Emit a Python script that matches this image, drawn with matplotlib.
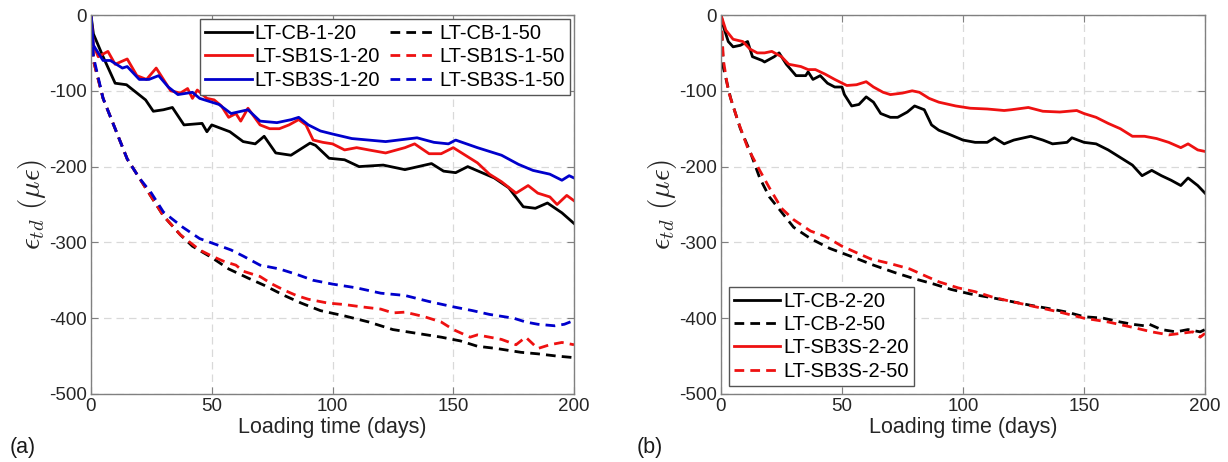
import matplotlib
matplotlib.use("Agg")
import matplotlib.pyplot as plt
import numpy as np

plt.rcParams['font.family'] = ['Liberation Sans', 'DejaVu Sans']
plt.rcParams['mathtext.fontset'] = 'cm'
plt.rcParams['axes.unicode_minus'] = False

# ---------------- Panel (a) data ----------------
cb1_20_x = [0, 1, 5, 10, 14.7, 22.6, 25.8, 30, 33.7, 38.5, 46, 48, 50, 57.5, 63, 68, 71.7, 76.5, 82.8, 90.7, 93, 98.6, 105, 111, 121, 130, 141, 146, 151, 156, 167, 173, 179, 184, 189, 195, 200]
cb1_20_y = [0, -25, -55, -90, -92, -112, -127, -125, -122, -145, -143, -154, -145, -154, -167, -170, -160, -182, -185, -169, -172, -189, -191, -200, -198, -204, -196, -206, -208, -200, -215, -228, -253, -255, -248, -261, -275]

sb1s1_20_x = [0, 1, 3, 7, 10, 15, 19, 23, 27, 30, 33, 37, 40, 42, 44, 48, 51, 54, 57, 60, 62, 65, 70, 74, 78, 82, 86, 89, 92, 96, 100, 105, 110, 115, 122, 130, 134, 140, 145, 150, 155, 160, 165, 170, 176, 181, 185, 190, 193, 197, 200]
sb1s1_20_y = [0, -40, -55, -48, -65, -58, -80, -85, -70, -85, -100, -103, -97, -110, -99, -110, -112, -120, -135, -130, -140, -123, -145, -150, -150, -145, -138, -145, -165, -168, -170, -178, -175, -178, -182, -175, -170, -183, -183, -175, -185, -195, -210, -220, -235, -225, -235, -240, -250, -238, -245]

sb3s1_20_x = [0, 1, 5, 8, 13, 15, 20, 24, 28, 32, 36, 42, 45, 50, 53, 58, 65, 70, 77, 83, 86, 90, 95, 100, 108, 115, 122, 135, 142, 148, 151, 160, 170, 177, 183, 190, 195, 198, 200]
sb3s1_20_y = [0, -40, -60, -60, -70, -68, -85, -85, -80, -95, -105, -102, -110, -115, -118, -130, -125, -140, -142, -138, -135, -145, -153, -157, -163, -165, -167, -162, -168, -170, -165, -175, -185, -197, -205, -210, -218, -212, -215]

cb1_50_x = [0, 1, 5, 10, 15, 20, 25, 30, 37, 42, 50, 57, 65, 72, 80, 87, 95, 105, 115, 125, 135, 145, 153, 160, 168, 178, 185, 193, 200]
cb1_50_y = [0, -60, -110, -150, -190, -215, -240, -265, -290, -305, -320, -335, -347, -357, -370, -380, -390, -397, -405, -415, -420, -425, -430, -437, -440, -445, -447, -450, -452]

sb1s1_50_x = [0, 1, 5, 10, 15, 20, 25, 30, 37, 45, 50, 55, 60, 63, 70, 75, 80, 85, 90, 98, 105, 112, 120, 125, 130, 138, 145, 150, 157, 160, 170, 176, 180, 185, 190, 195, 200]
sb1s1_50_y = [0, -60, -110, -150, -190, -215, -240, -265, -290, -310, -318, -325, -330, -338, -345, -355, -363, -370, -375, -380, -382, -385, -388, -393, -392, -398, -405, -415, -425, -422, -428, -435, -425, -440, -435, -432, -435]

sb3s1_50_x = [0, 1, 5, 10, 15, 20, 25, 30, 38, 45, 52, 58, 63, 70, 78, 85, 92, 100, 110, 120, 130, 140, 150, 158, 165, 175, 180, 185, 192, 196, 200]
sb3s1_50_y = [0, -55, -110, -150, -190, -215, -235, -260, -280, -295, -303, -310, -318, -330, -335, -342, -350, -355, -360, -367, -370, -378, -385, -390, -395, -400, -405, -408, -410, -408, -403]

# ---------------- Panel (b) data ----------------
cb2_20_x = [0, 1, 3, 5, 8, 11, 13, 17, 18, 22, 24, 27, 31, 35, 36, 38, 41, 44, 47, 50, 51, 54, 57, 60, 63, 66, 70, 73, 77, 80, 84, 87, 90, 94, 100, 105, 110, 113, 117, 121, 128, 133, 137, 143, 145, 150, 155, 160, 166, 170, 174, 178, 182, 186, 190, 193, 197, 200]
cb2_20_y = [0, -15, -35, -42, -40, -35, -55, -60, -62, -55, -50, -65, -80, -80, -75, -85, -80, -90, -95, -95, -105, -120, -118, -108, -115, -130, -135, -135, -128, -120, -125, -145, -152, -157, -165, -168, -168, -162, -170, -165, -160, -165, -170, -168, -162, -168, -170, -178, -190, -198, -212, -205, -212, -218, -225, -215, -225, -235]

sb3s2_20_x = [0, 2, 5, 9, 12, 15, 18, 21, 25, 28, 33, 36, 39, 43, 47, 52, 56, 60, 63, 67, 70, 75, 79, 82, 86, 90, 97, 103, 110, 117, 120, 127, 133, 140, 147, 150, 155, 160, 165, 170, 175, 180, 185, 190, 193, 197, 200]
sb3s2_20_y = [0, -20, -32, -35, -45, -50, -50, -48, -55, -65, -68, -72, -72, -78, -85, -93, -92, -88, -95, -102, -105, -103, -100, -102, -110, -115, -120, -123, -124, -126, -125, -122, -127, -128, -126, -130, -135, -143, -150, -160, -160, -163, -168, -175, -170, -178, -180]

cb2_50_x = [0, 1, 4, 8, 12, 16, 20, 25, 30, 37, 45, 55, 63, 72, 80, 88, 95, 103, 112, 120, 128, 135, 143, 150, 158, 165, 170, 175, 177, 182, 188, 193, 198, 200]
cb2_50_y = [0, -70, -110, -150, -180, -215, -240, -260, -280, -295, -308, -320, -330, -340, -348, -355, -362, -368, -373, -378, -383, -387, -392, -398, -400, -405, -408, -410, -408, -415, -418, -415, -418, -415]

sb3s2_50_x = [0, 1, 3, 7, 11, 16, 20, 25, 30, 37, 43, 50, 57, 62, 70, 78, 85, 90, 98, 105, 112, 120, 130, 140, 150, 160, 170, 178, 185, 190, 195, 198, 200]
sb3s2_50_y = [0, -60, -100, -140, -175, -205, -228, -255, -270, -285, -292, -305, -315, -322, -328, -335, -345, -352, -360, -365, -372, -378, -385, -392, -400, -405, -412, -418, -422, -420, -418, -425, -420]

labels_a = ['LT-CB-1-20', 'LT-CB-1-50', 'LT-SB1S-1-20', 'LT-SB1S-1-50', 'LT-SB3S-1-20', 'LT-SB3S-1-50']
labels_b = ['LT-CB-2-20', 'LT-CB-2-50', 'LT-SB3S-2-20', 'LT-SB3S-2-50']

BLUE = '#0000cc'
RED = '#ee1111'
BLACK = '#000000'
lw = 2.0
dash = (0, (3.5, 2.2))

fig = plt.figure(figsize=(12.28, 4.62), dpi=100)
axa = fig.add_axes([91/1228, 1-394/462, (574-91)/1228, (394-15)/462])
axb = fig.add_axes([721/1228, 1-394/462, (1205-721)/1228, (394-15)/462])


def style(ax):
    ax.set_xlim(0, 200)
    ax.set_ylim(-500, 0)
    ax.set_xticks([0, 50, 100, 150, 200])
    ax.set_yticks([0, -100, -200, -300, -400, -500])
    ax.grid(True, linestyle=(0, (6, 4)), color='#d9d9d9', linewidth=0.9)
    ax.set_axisbelow(True)
    for s in ax.spines.values():
        s.set_color('#808080')
        s.set_linewidth(1.0)
    ax.tick_params(direction='in', length=5, color='#808080', labelsize=13.5,
                   labelcolor='#262626', top=True, right=True, pad=3)
    ax.set_xlabel('Loading time (days)', fontsize=15.5, color='#262626', labelpad=1)
    ax.set_ylabel(r'$\epsilon_{td}\ (\mu\epsilon)$', fontsize=21, color='#262626', labelpad=0)


# Panel (a)
h1, = axa.plot(cb1_20_x, cb1_20_y, color=BLACK, lw=lw)
h2, = axa.plot(cb1_50_x, cb1_50_y, color=BLACK, lw=lw, linestyle=dash)
h3, = axa.plot(sb1s1_20_x, sb1s1_20_y, color=RED, lw=lw)
h4, = axa.plot(sb1s1_50_x, sb1s1_50_y, color=RED, lw=lw, linestyle=dash)
h5, = axa.plot(sb3s1_20_x, sb3s1_20_y, color=BLUE, lw=lw)
h6, = axa.plot(sb3s1_50_x, sb3s1_50_y, color=BLUE, lw=lw, linestyle=dash)
style(axa)
leg = axa.legend([h1, h3, h5, h2, h4, h6],
                 [labels_a[0], labels_a[2], labels_a[4], labels_a[1], labels_a[3], labels_a[5]],
                 ncol=2, loc='upper right', fontsize=14.5, frameon=True, fancybox=False,
                 edgecolor='#555555', framealpha=1, handlelength=2.3, handletextpad=0.15,
                 columnspacing=0.5, labelspacing=0.22, borderpad=0.25, borderaxespad=0.2)
leg.get_frame().set_linewidth(1.0)

# Panel (b)
g1, = axb.plot(cb2_20_x, cb2_20_y, color=BLACK, lw=lw)
g2, = axb.plot(cb2_50_x, cb2_50_y, color=BLACK, lw=lw, linestyle=dash)
g3, = axb.plot(sb3s2_20_x, sb3s2_20_y, color=RED, lw=lw)
g4, = axb.plot(sb3s2_50_x, sb3s2_50_y, color=RED, lw=lw, linestyle=dash)
style(axb)
legb = axb.legend([g1, g2, g3, g4], labels_b, loc='lower left', fontsize=14.5, frameon=True,
                  fancybox=False, edgecolor='#555555', framealpha=1, handlelength=2.3,
                  handletextpad=0.15, labelspacing=0.22, borderpad=0.25, borderaxespad=0.4)
legb.get_frame().set_linewidth(1.0)

fig.text(10/1228, 1-447/462, '(a)', fontsize=15.5, va='center', ha='left', color='#1a1a1a')
fig.text(637/1228, 1-447/462, '(b)', fontsize=15.5, va='center', ha='left', color='#1a1a1a')

fig.savefig('out.png', dpi=100)
